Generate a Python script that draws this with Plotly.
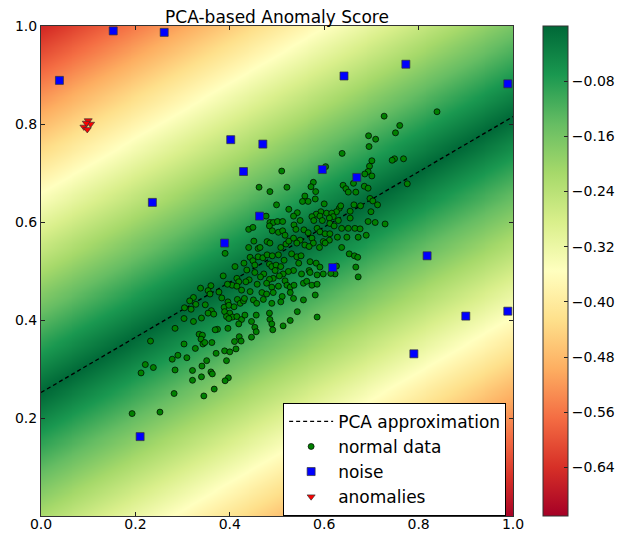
import numpy as np
import plotly.graph_objects as go

# Principal axis of the data: y = intercept + slope * x
pca_intercept = 0.252
pca_slope = 0.563

normal_x = [
    0.386, 0.415, 0.419, 0.405, 0.395, 0.415, 0.360, 0.338, 0.354, 0.358,
    0.377, 0.323, 0.315, 0.348, 0.328, 0.304, 0.318, 0.383, 0.396, 0.388,
    0.398, 0.409, 0.389, 0.400, 0.416, 0.422, 0.429, 0.431, 0.361, 0.354,
    0.366, 0.303, 0.323, 0.340, 0.393, 0.406, 0.398, 0.415, 0.425, 0.419,
    0.396, 0.374, 0.369, 0.284, 0.335, 0.342, 0.339, 0.343, 0.347, 0.362,
    0.232, 0.303, 0.327, 0.371, 0.389, 0.400, 0.413, 0.410, 0.420, 0.424,
    0.290, 0.278, 0.309, 0.351, 0.393, 0.221, 0.238, 0.341, 0.284, 0.321,
    0.360, 0.363, 0.340, 0.321, 0.397, 0.390, 0.212, 0.367, 0.282, 0.345,
    0.193, 0.252,
    0.430, 0.436, 0.443, 0.449, 0.453, 0.460, 0.470, 0.479, 0.490, 0.484,
    0.489, 0.498, 0.508, 0.515, 0.531, 0.542, 0.551, 0.546, 0.570, 0.583,
    0.591, 0.598, 0.585, 0.568, 0.570, 0.552, 0.535, 0.524, 0.513, 0.505,
    0.496, 0.492, 0.484, 0.472, 0.465, 0.453, 0.441, 0.434, 0.458, 0.478,
    0.489, 0.503, 0.517, 0.521, 0.528, 0.536, 0.556, 0.563, 0.574, 0.585,
    0.425, 0.443, 0.468, 0.478, 0.492, 0.511, 0.528, 0.535, 0.556, 0.581,
    0.450, 0.471, 0.489, 0.508, 0.432, 0.457, 0.446, 0.456, 0.485, 0.489,
    0.484, 0.543, 0.528, 0.513, 0.491, 0.453, 0.456, 0.446, 0.585,
    0.462, 0.485, 0.521, 0.499, 0.525, 0.477, 0.485, 0.492, 0.501, 0.512,
    0.484, 0.490, 0.503, 0.512, 0.517, 0.440, 0.449, 0.451, 0.479, 0.485,
    0.508, 0.519, 0.525, 0.440, 0.460, 0.464, 0.390, 0.503, 0.411,
    0.638, 0.701, 0.696, 0.510, 0.603, 0.693, 0.686, 0.701, 0.662, 0.640,
    0.646, 0.651, 0.667, 0.685, 0.693, 0.577, 0.572, 0.582, 0.559, 0.554,
    0.566, 0.581, 0.600, 0.663, 0.677, 0.697, 0.703, 0.713, 0.632, 0.635,
    0.626, 0.655, 0.699, 0.593, 0.583, 0.543, 0.535, 0.605, 0.616, 0.619,
    0.611, 0.574, 0.578, 0.591, 0.596, 0.549, 0.536, 0.612, 0.621, 0.630,
    0.655, 0.637, 0.651, 0.665, 0.676, 0.693, 0.708, 0.689, 0.672, 0.540,
    0.557, 0.566, 0.585, 0.591, 0.602, 0.612, 0.628, 0.648, 0.535, 0.549,
    0.574, 0.577, 0.559, 0.542, 0.598, 0.611, 0.637, 0.568, 0.590, 0.602,
    0.653, 0.664, 0.671, 0.667, 0.626, 0.623, 0.614, 0.672,
    0.839, 0.727, 0.760, 0.751, 0.694, 0.709, 0.695, 0.768, 0.749, 0.744,
    0.776, 0.729,
]
normal_y = [
    0.490, 0.485, 0.478, 0.471, 0.473, 0.469, 0.470, 0.465, 0.460, 0.453,
    0.457, 0.446, 0.439, 0.431, 0.432, 0.425, 0.422, 0.445, 0.437, 0.426,
    0.430, 0.427, 0.417, 0.414, 0.442, 0.434, 0.439, 0.444, 0.419, 0.414,
    0.412, 0.403, 0.397, 0.404, 0.407, 0.406, 0.403, 0.407, 0.401, 0.392,
    0.383, 0.381, 0.380, 0.383, 0.371, 0.369, 0.361, 0.351, 0.354, 0.354,
    0.357, 0.351, 0.342, 0.332, 0.337, 0.335, 0.341, 0.356, 0.366, 0.357,
    0.328, 0.320, 0.323, 0.317, 0.317, 0.309, 0.303, 0.306, 0.298, 0.297,
    0.294, 0.290, 0.284, 0.277, 0.282, 0.276, 0.292, 0.259, 0.250, 0.245,
    0.209, 0.212,
    0.516, 0.502, 0.528, 0.521, 0.512, 0.529, 0.527, 0.533, 0.531, 0.514,
    0.509, 0.512, 0.509, 0.522, 0.535, 0.529, 0.531, 0.516, 0.519, 0.516,
    0.508, 0.494, 0.492, 0.501, 0.497, 0.494, 0.501, 0.499, 0.494, 0.490,
    0.501, 0.485, 0.483, 0.494, 0.488, 0.497, 0.482, 0.478, 0.473, 0.475,
    0.467, 0.469, 0.480, 0.471, 0.467, 0.471, 0.475, 0.479, 0.471, 0.473,
    0.461, 0.458, 0.456, 0.453, 0.456, 0.448, 0.456, 0.444, 0.441, 0.451,
    0.441, 0.442, 0.434, 0.437, 0.410, 0.434, 0.397, 0.410, 0.401, 0.392,
    0.414, 0.417, 0.399, 0.388, 0.380, 0.385, 0.376, 0.365, 0.406,
    0.671, 0.662, 0.671, 0.635, 0.626, 0.612, 0.599, 0.599, 0.601, 0.601,
    0.592, 0.582, 0.579, 0.582, 0.573, 0.585, 0.589, 0.561, 0.560, 0.557,
    0.548, 0.555, 0.561, 0.548, 0.546, 0.548, 0.536, 0.533, 0.509,
    0.740, 0.725, 0.714, 0.704, 0.713, 0.703, 0.698, 0.694, 0.679, 0.675,
    0.668, 0.661, 0.661, 0.673, 0.669, 0.681, 0.672, 0.662, 0.653, 0.642,
    0.642, 0.647, 0.637, 0.635, 0.633, 0.648, 0.643, 0.635, 0.628, 0.633,
    0.621, 0.622, 0.621, 0.621, 0.616, 0.619, 0.612, 0.618, 0.618, 0.611,
    0.608, 0.611, 0.603, 0.612, 0.603, 0.603, 0.594, 0.597, 0.592, 0.603,
    0.608, 0.587, 0.587, 0.587, 0.586, 0.601, 0.599, 0.573, 0.569, 0.585,
    0.584, 0.578, 0.587, 0.580, 0.576, 0.576, 0.569, 0.569, 0.567, 0.563,
    0.567, 0.557, 0.553, 0.557, 0.560, 0.563, 0.548, 0.550, 0.548, 0.557,
    0.535, 0.531, 0.528, 0.508, 0.510, 0.494, 0.495, 0.488,
    0.825, 0.816, 0.797, 0.782, 0.776, 0.769, 0.754, 0.729, 0.729, 0.726,
    0.678, 0.596,
]

noise_x = [0.153, 0.261, 0.039, 0.402, 0.470, 0.429, 0.236, 0.463, 0.389, 0.773,
           0.642, 0.989, 0.596, 0.669, 0.818, 0.618, 0.900, 0.989, 0.790, 0.210]
noise_y = [0.990, 0.987, 0.889, 0.768, 0.759, 0.703, 0.640, 0.612, 0.557, 0.922,
           0.898, 0.882, 0.707, 0.691, 0.531, 0.507, 0.408, 0.418, 0.331, 0.162]

anomaly_x = [0.091, 0.100, 0.105, 0.096, 0.098]
anomaly_y = [0.794, 0.807, 0.800, 0.802, 0.789]

cbar_ticks = [-0.08, -0.16, -0.24, -0.32, -0.40, -0.48, -0.56, -0.64]
x_ticks = [0.0, 0.2, 0.4, 0.6, 0.8, 1.0]
y_ticks = [0.2, 0.4, 0.6, 0.8, 1.0]

# Anomaly score field: negative distance to the principal axis
gx = np.linspace(0, 1, 241)
gy = np.linspace(0, 1, 241)
GX, GY = np.meshgrid(gx, gy)
score = -np.abs(GY - (pca_intercept + pca_slope * GX)) / np.sqrt(1 + pca_slope ** 2)

line_x = [0.0, 1.0]
line_y = [pca_intercept + pca_slope * v for v in line_x]

FONT = "DejaVu Sans"

fig = go.Figure()

fig.add_trace(go.Heatmap(
    x=gx, y=gy, z=score,
    colorscale="RdYlGn",
    zmin=float(score.min()), zmax=0.0,
    zsmooth="best",
    showlegend=False,
    hoverinfo="skip",
    colorbar=dict(
        thickness=25, len=1.0, lenmode="fraction",
        x=1.0636, xanchor="left", xpad=0,
        y=0.5, yanchor="middle", ypad=0,
        tickvals=cbar_ticks, tickformat=".2f",
        ticks="inside", ticklen=4, tickcolor="#222",
        outlinewidth=1, outlinecolor="#333",
        tickfont=dict(family=FONT, size=14, color="black"),
    ),
))

fig.add_trace(go.Scatter(
    x=line_x, y=line_y, mode="lines", name="PCA approximation",
    line=dict(color="black", width=1.3, dash="4px,3px"),
))

fig.add_trace(go.Scatter(
    x=normal_x, y=normal_y, mode="markers", name="normal data",
    marker=dict(symbol="circle", size=6, color="#008000",
                line=dict(color="black", width=0.7)),
))

fig.add_trace(go.Scatter(
    x=noise_x, y=noise_y, mode="markers", name="noise",
    marker=dict(symbol="square", size=8, color="#0000ff",
                line=dict(color="#333", width=0.7)),
))

fig.add_trace(go.Scatter(
    x=anomaly_x, y=anomaly_y, mode="markers", name="anomalies",
    marker=dict(symbol="triangle-down", size=7, color="#ff0000",
                line=dict(color="#333", width=0.7)),
))

axis_common = dict(
    range=[0, 1], showgrid=False, zeroline=False, automargin=False,
    ticks="inside", ticklen=4, tickcolor="#222",
    showline=True, linecolor="#333", linewidth=1, mirror="ticks",
    tickfont=dict(family=FONT, size=14, color="black"),
)

fig.update_layout(
    width=624, height=533,
    margin=dict(l=41, r=111, t=26, b=17, autoexpand=False),
    paper_bgcolor="white", plot_bgcolor="white",
    title=dict(text="PCA-based Anomaly Score", x=0.5, xref="paper", xanchor="center",
               y=1 - 17 / 533, yref="container", yanchor="middle",
               font=dict(family=FONT, size=17, color="black")),
    xaxis=dict(axis_common, tickvals=x_ticks, tickformat=".1f", ticklabelstandoff=-5),
    yaxis=dict(axis_common, tickvals=y_ticks, tickformat=".1f"),
    legend=dict(
        x=0.513, y=0.231, xanchor="left", yanchor="top",
        bgcolor="white", bordercolor="black", borderwidth=1,
        font=dict(family=FONT, size=17, color="black"),
        itemwidth=44,
    ),
    showlegend=True,
)

fig.write_html("out.html")
